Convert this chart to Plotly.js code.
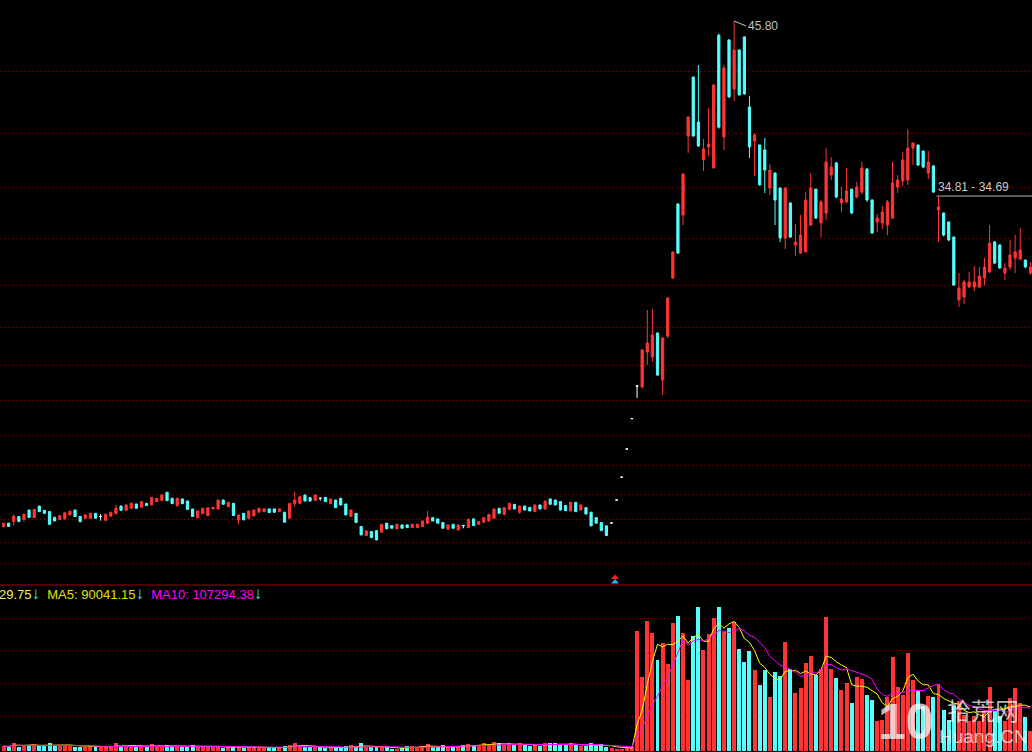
<!DOCTYPE html>
<html><head><meta charset="utf-8">
<script src="https://cdn.plot.ly/plotly-3.0.1.min.js"></script>
<style>html,body{margin:0;padding:0;background:#000;overflow:hidden}#chart{width:1032px;height:752px}</style>
</head><body><div id="chart"></div>
<script>
// ---- price data (daily candles) ----
const openP = [
13.89,14.10,14.20,14.52,14.33,14.93,14.45,15.18,14.91,14.83,
14.47,14.33,14.37,14.62,14.93,14.52,14.41,14.41,14.72,14.52,
14.28,14.54,14.70,15.18,14.91,15.04,15.31,15.10,15.35,15.25,
15.46,15.54,16.05,15.67,15.21,15.63,15.50,14.99,14.45,14.70,
14.58,15.00,14.99,15.56,15.14,15.35,14.31,14.72,14.41,14.56,
14.79,14.83,15.00,15.00,14.83,14.79,14.41,15.35,15.35,15.88,
15.71,15.54,15.67,15.73,15.33,15.56,15.67,15.31,14.52,14.72,
13.89,13.32,13.57,13.63,13.53,14.10,13.95,13.74,13.99,13.99,
13.82,13.82,13.89,14.10,14.45,14.37,14.14,13.72,14.03,13.68,
13.95,13.82,14.37,14.03,14.16,14.24,14.41,15.04,14.66,14.97,
15.29,14.79,15.18,15.10,14.83,15.25,15.00,15.63,15.56,15.46,
15.21,14.87,15.42,14.93,15.08,14.79,14.45,14.14,13.93,14.11,
15.56,17.00,18.78,20.70,22.76,22.70,24.90,24.59,26.10,23.14,
25.91,29.58,34.25,33.55,38.54,42.26,39.42,37.03,37.85,36.52,
44.90,38.48,44.60,41.51,43.97,44.79,40.37,38.23,37.97,37.66,
35.26,36.20,35.26,32.10,34.31,31.66,31.15,31.22,32.92,35.19,
33.05,33.68,36.08,36.84,34.31,34.38,35.19,34.69,35.00,36.46,
34.50,33.11,33.05,32.92,33.36,35.32,35.70,35.76,37.78,37.97,
37.59,36.20,36.65,33.87,33.68,33.11,32.16,28.19,28.38,29.01,
29.01,29.01,29.58,29.96,31.85,31.66,29.89,30.27,30.84,30.77,
30.71,29.89];
const highP = [
14.14,14.12,14.66,14.55,14.72,14.95,14.99,15.20,14.93,14.87,
14.50,14.60,14.77,14.88,14.95,14.54,14.66,14.76,14.74,14.68,
14.70,14.81,15.25,15.20,15.27,15.40,15.33,15.48,15.37,15.75,
15.69,15.90,16.07,15.69,15.69,15.65,15.52,15.01,14.89,15.06,
15.10,15.12,15.58,15.58,15.44,15.37,14.64,14.74,14.89,14.95,
15.06,15.02,15.02,15.02,15.02,14.81,15.37,16.09,15.79,15.90,
15.73,15.90,15.73,15.75,15.65,15.58,15.69,15.33,14.95,14.74,
13.91,13.66,13.59,13.65,14.05,14.12,13.97,14.05,14.01,14.01,
14.05,14.05,14.26,14.87,14.47,14.39,14.16,14.01,14.05,14.01,
14.00,14.37,14.39,14.22,14.47,14.68,15.04,15.06,15.10,15.37,
15.31,15.21,15.20,15.12,15.27,15.27,15.52,15.65,15.58,15.48,
15.23,15.44,15.44,15.27,15.10,14.81,14.47,14.16,13.95,14.11,
15.56,17.00,18.78,20.70,22.76,25.10,27.56,27.62,26.15,25.85,
28.35,31.25,34.30,36.20,39.80,42.30,43.02,38.35,40.31,41.82,
45.00,43.02,44.65,45.80,44.00,44.85,41.07,38.73,38.00,38.41,
36.77,36.25,35.30,35.30,34.35,32.99,33.55,35.00,36.20,35.20,
34.50,37.78,37.21,36.90,35.32,36.52,35.20,35.64,36.90,36.50,
34.55,33.62,34.12,34.50,36.90,36.08,37.53,38.98,38.12,38.00,
37.60,37.59,36.70,34.69,33.70,33.15,32.20,29.89,29.45,29.96,
30.33,30.27,30.84,32.92,31.90,31.70,30.52,31.98,32.29,32.73,
30.75,30.58];
const lowP = [
13.82,13.87,13.95,14.18,14.20,14.44,14.43,14.80,14.70,13.99,
14.22,14.30,14.35,14.60,14.50,14.14,14.38,14.38,14.39,14.26,
14.22,14.50,14.66,14.89,14.89,15.00,15.02,15.08,15.19,15.23,
15.44,15.52,15.50,15.31,15.14,15.31,14.95,14.50,14.40,14.68,
14.56,14.97,14.97,15.27,15.12,14.56,14.03,14.29,14.35,14.54,
14.77,14.81,14.75,14.77,14.81,14.14,14.39,15.14,15.33,15.48,
15.48,15.52,15.52,15.44,15.31,15.06,15.23,14.60,14.50,14.12,
13.34,13.30,13.17,13.02,13.51,13.72,13.76,13.72,13.76,13.80,
13.80,13.80,13.87,14.03,14.22,14.08,13.76,13.70,13.76,13.62,
13.78,13.80,13.93,14.01,14.14,14.22,14.37,14.70,14.60,14.95,
14.97,14.70,14.91,14.85,14.81,14.97,14.97,15.27,15.23,14.91,
14.87,14.85,14.81,14.91,14.66,13.91,14.08,13.61,13.30,14.11,
15.56,17.00,18.78,20.70,22.00,22.60,24.08,24.27,23.40,22.19,
25.79,29.50,31.10,32.92,37.47,38.50,37.85,36.33,37.28,36.50,
39.00,37.66,40.95,40.75,41.10,41.15,37.15,36.02,35.40,34.94,
34.82,32.92,31.85,31.41,32.10,30.96,31.10,31.20,32.86,33.30,
32.16,33.24,35.76,34.60,33.74,34.30,33.60,34.60,34.88,34.40,
32.35,32.48,32.67,32.29,33.30,34.94,35.38,35.45,36.71,36.65,
36.50,35.83,34.95,31.85,32.20,31.90,29.10,27.74,27.94,28.95,
28.75,28.95,29.13,29.90,30.45,30.15,29.45,30.08,29.89,30.70,
30.20,29.77];
const closeP = [
14.10,13.89,14.52,14.20,14.66,14.46,14.97,14.83,14.72,14.03,
14.24,14.58,14.75,14.85,14.52,14.20,14.62,14.72,14.41,14.52,
14.66,14.79,15.04,14.91,15.25,15.35,15.04,15.46,15.21,15.73,
15.67,15.88,15.52,15.33,15.67,15.33,14.97,14.52,14.87,15.04,
15.08,15.10,15.56,15.29,15.42,14.58,14.62,14.31,14.87,14.93,
15.04,15.00,14.77,14.79,15.00,14.16,15.35,15.56,15.77,15.50,
15.50,15.88,15.67,15.46,15.63,15.08,15.25,14.62,14.93,14.14,
13.36,13.61,13.19,13.04,14.03,13.74,13.78,14.03,13.78,13.82,
14.03,14.03,14.24,14.47,14.24,14.10,13.78,13.99,13.78,13.99,
13.95,14.35,13.95,14.20,14.45,14.66,14.99,14.72,15.08,15.35,
15.00,15.18,14.93,14.87,15.25,15.00,15.50,15.29,15.25,14.93,
14.89,15.42,14.83,15.25,14.68,13.93,14.10,13.63,13.32,14.11,
15.56,17.00,18.78,20.70,22.76,25.03,25.47,25.98,23.45,25.79,
28.31,31.22,31.15,36.14,39.74,38.54,37.91,37.72,38.03,41.76,
39.10,42.83,41.00,43.97,41.13,41.19,37.85,38.60,35.45,36.39,
36.39,34.50,32.10,35.26,32.16,31.85,32.29,34.50,35.26,33.36,
34.38,36.90,36.58,34.69,34.56,35.07,33.68,35.32,36.52,34.50,
32.42,33.36,33.74,34.38,35.57,35.76,37.03,37.78,38.10,36.71,
36.58,36.90,35.00,34.06,32.29,31.98,29.13,28.94,29.33,29.33,
29.33,29.70,30.27,31.78,30.52,30.21,30.21,31.03,31.22,31.34,
30.27,30.27];
// ---- volume ----
const volume = [
12000,11000,21000,11000,15000,16000,15000,13000,13000,20000,
13000,13000,16000,13000,11000,11000,11000,13000,9000,9000,
9000,13000,21000,11000,11000,14000,11000,14000,9000,17000,
12000,12000,15000,12000,12000,11000,11000,15000,13000,12000,
11000,10000,11000,8000,9000,12000,11000,8000,11000,11000,
8000,8000,8000,8000,7000,12000,15000,19000,12000,9000,
10000,11000,9000,8000,9000,8000,8000,12000,14000,9000,
19000,9000,9000,9000,9000,9000,6000,6000,7000,12000,
12000,9000,12000,17000,9000,9000,15000,9000,9000,12000,
14000,17000,12000,14000,19000,14000,23000,19000,14000,19000,
14000,21000,15000,12000,15000,12000,19000,19000,19000,15000,
15000,21000,15000,12000,12000,19000,12000,17000,11000,7000,
5000,5000,7000,11000,300000,186000,326000,294000,228000,269000,
217000,321000,338000,294000,178000,288000,359000,253000,293000,332000,
359000,298000,307000,323000,255000,223000,251000,203000,165000,203000,
136000,198000,188000,273000,204000,146000,157000,219000,238000,190000,
204000,334000,204000,182000,152000,171000,119000,186000,181000,140000,
128000,76000,77000,136000,236000,159000,140000,246000,178000,153000,
112000,138000,136000,168000,103000,78000,112000,125000,90000,75000,
88000,75000,100000,159000,100000,88000,75000,132000,158000,121000,
86000,51000];
// grid levels
const priceGrid = [42.64,38.73,35.26,32.04,29.13,26.48,24.08,21.87,19.66,17.71,15.94,14.36,12.91,11.58];
const volGrid = [332500,252500,170000,87500];
// labels
const highLabel = '45.80';
const gapLabel = '34.81 - 34.69';
const gapLevel = 34.75;
const volInfo = {last:'29.75', ma5:'90041.15', ma10:'107294.38'};

const RED = '#ff3535', CYAN = '#55ffff', WHITE = '#ffffff';
const N = openP.length;
const xs = openP.map((_, i) => i);

function pick(cond) {
  const o = {x:[], open:[], high:[], low:[], close:[]};
  for (let i = 0; i < N; i++) if (cond(i)) {
    o.x.push(i); o.open.push(openP[i]); o.high.push(highP[i]); o.low.push(lowP[i]); o.close.push(closeP[i]);
  }
  return o;
}
function candle(d, col) {
  return Object.assign({type:'candlestick', xaxis:'x', yaxis:'y', hoverinfo:'skip',
    increasing:{line:{color:col, width:1}, fillcolor:col},
    decreasing:{line:{color:col, width:1}, fillcolor:col}, whiskerwidth:0}, d);
}
const up = pick(i => closeP[i] > openP[i]);
const dn = pick(i => closeP[i] < openP[i]);
const fl = pick(i => closeP[i] === openP[i]);

const volColor = xs.map(i => {
  if (closeP[i] > openP[i]) return RED;
  if (closeP[i] < openP[i]) return CYAN;
  return (i === 0 || closeP[i] >= closeP[i-1]) ? RED : CYAN;
});
function ma(n) {
  return volume.map((_, i) => {
    const s = Math.max(0, i - n + 1); let t = 0;
    for (let k = s; k <= i; k++) t += volume[k];
    return t / (i - s + 1);
  });
}

const traces = [
  candle(up, RED), candle(dn, CYAN), candle(fl, WHITE),
  {type:'bar', x:xs, y:volume, xaxis:'x', yaxis:'y2', width:0.78,
   marker:{color:volColor, line:{width:0}}, hoverinfo:'skip'},
  {type:'scatter', mode:'lines', x:xs, y:ma(5), xaxis:'x', yaxis:'y2', line:{color:'#ffff00', width:1}, hoverinfo:'skip'},
  {type:'scatter', mode:'lines', x:xs, y:ma(10), xaxis:'x', yaxis:'y2', line:{color:'#ff00ff', width:1}, hoverinfo:'skip'}
];

const W = 1032, H = 752, SPLIT = 585;
const P = (x, y) => (x / W) + ',' + ((H - y) / H);
const font = 'Liberation Sans, Arial, sans-serif';
const arrow = '<span style="font-size:17px;color:#30e8ff">↓</span>';
const wm = 'rgba(255,255,255,0.72)';
const layout = {
  width:W, height:H, margin:{l:0, r:0, t:0, b:0},
  paper_bgcolor:'#000', plot_bgcolor:'#000', showlegend:false,
  boxgap:0.38, bargap:0,
  xaxis:{range:[-0.69, 201.3], visible:false, showgrid:false, zeroline:false, rangeslider:{visible:false}, fixedrange:true},
  yaxis:{domain:[(H-SPLIT)/H, 1], range:[10.197, 47.126], tickvals:priceGrid, showticklabels:false, ticks:'',
         showgrid:true, gridcolor:'#8a0000', griddash:'1px,3px', gridwidth:1, zeroline:false, showline:false, fixedrange:true},
  yaxis2:{domain:[0, (H-SPLIT-1)/H], range:[-2500, 412500], tickvals:volGrid, showticklabels:false, ticks:'',
         showgrid:true, gridcolor:'#8a0000', griddash:'1px,3px', gridwidth:1, zeroline:false, showline:false, fixedrange:true},
  shapes:[
    {type:'line', xref:'paper', yref:'paper', x0:0, x1:1, y0:(H-SPLIT)/H, y1:(H-SPLIT)/H, line:{color:'#a00000', width:1}},
    {type:'line', xref:'x', yref:'y', x0:182.6, x1:202, y0:gapLevel, y1:gapLevel, line:{color:'#b4b4b4', width:1}},
    {type:'path', xref:'paper', yref:'paper', path:'M'+P(611,579)+'L'+P(615,574.5)+'L'+P(619,579)+'Z',
     fillcolor:'#ff2020', line:{width:0}},
    {type:'path', xref:'paper', yref:'paper', path:'M'+P(611,583.5)+'L'+P(615,579)+'L'+P(619,583.5)+'Z',
     fillcolor:'#20b0ff', line:{width:0}}
  ],
  annotations:[
    {xref:'x', yref:'y', x:143, y:45.80, text:highLabel, showarrow:true, arrowhead:0, arrowwidth:1, arrowcolor:'#c8c8c8',
     ax:12, ay:5, xanchor:'left', yanchor:'middle', font:{family:font, size:12, color:'#c0c0c0'}},
    {xref:'x', yref:'y', x:182.6, y:gapLevel, yshift:9, text:gapLabel, showarrow:false, xanchor:'left', yanchor:'middle',
     font:{family:font, size:12, color:'#c8c8c8'}},
    {xref:'paper', yref:'paper', x:0, xshift:-3, y:(H-593)/H, xanchor:'left', yanchor:'middle', showarrow:false,
     font:{family:font, size:13, color:'#e8e860'},
     text:'<span style="color:#ecec70">'+volInfo.last+'</span>'+arrow+'&nbsp;&nbsp;'+
          '<span style="color:#e0e000">MA5: '+volInfo.ma5+'</span>'+arrow+'&nbsp;&nbsp;'+
          '<span style="color:#ff00ff">MA10: '+volInfo.ma10+'</span>'+arrow},
    {xref:'paper', yref:'paper', x:906/W, y:(H-722)/H, text:'<b>10</b>', showarrow:false, xanchor:'center', yanchor:'middle',
     font:{family:font, size:50, color:wm}},
    {xref:'paper', yref:'paper', x:983/W, y:(H-709)/H, text:'拾荒网', showarrow:false, xanchor:'center', yanchor:'middle',
     font:{family:'Noto Sans CJK SC', size:24, color:wm}},
    {xref:'paper', yref:'paper', x:983/W, y:(H-736)/H, text:'Huang.CN', showarrow:false, xanchor:'center', yanchor:'middle',
     font:{family:font, size:19, color:wm}}
  ]
};
Plotly.newPlot('chart', traces, layout, {staticPlot:true, displayModeBar:false});
</script>
</body></html>
